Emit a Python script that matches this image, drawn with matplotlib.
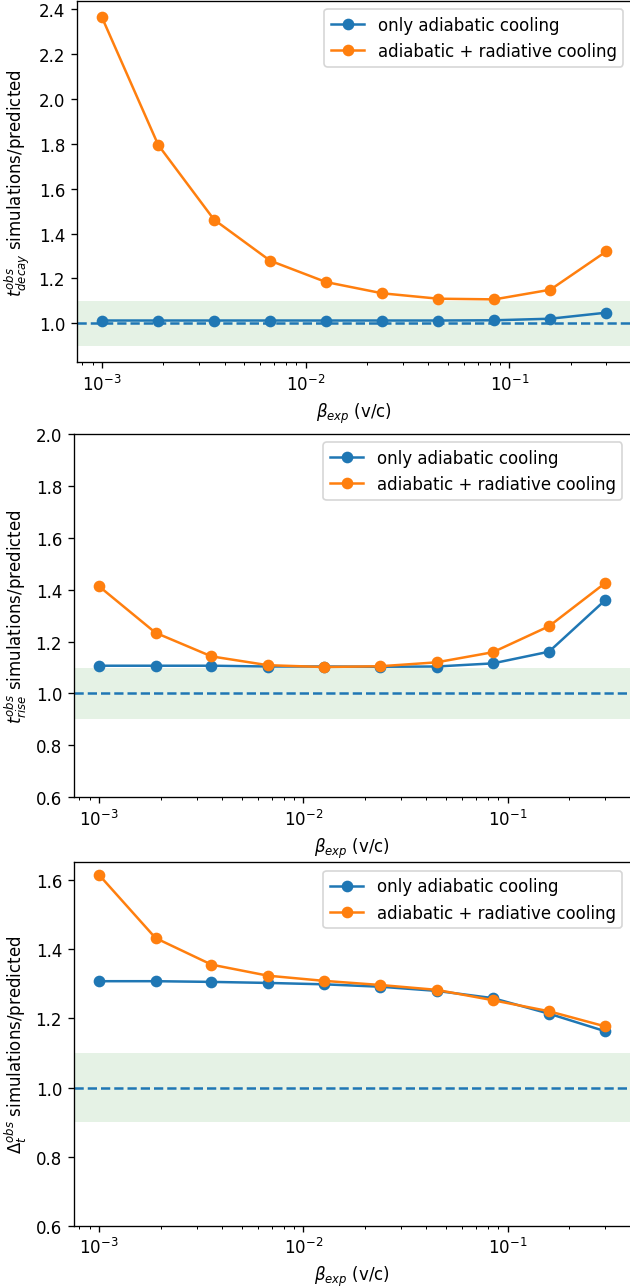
import numpy as np
import matplotlib
matplotlib.use('Agg')
import matplotlib.pyplot as plt

beta = [0.001, 0.00189, 0.00355, 0.0067, 0.0126, 0.0238, 0.0448, 0.0845, 0.159, 0.3]

decay_adiab = [1.013, 1.013, 1.013, 1.013, 1.013, 1.013, 1.013, 1.014, 1.021, 1.048]
decay_rad = [2.362, 1.794, 1.462, 1.279, 1.184, 1.134, 1.110, 1.107, 1.150, 1.321]

rise_adiab = [1.107, 1.107, 1.107, 1.104, 1.104, 1.103, 1.104, 1.116, 1.161, 1.360]
rise_rad = [1.413, 1.234, 1.143, 1.109, 1.102, 1.105, 1.120, 1.159, 1.259, 1.426]

delta_adiab = [1.308, 1.308, 1.306, 1.303, 1.299, 1.292, 1.280, 1.259, 1.214, 1.163]
delta_rad = [1.616, 1.433, 1.356, 1.324, 1.309, 1.297, 1.283, 1.253, 1.221, 1.177]

ylabels = [r'$t^{obs}_{decay}$ simulations/predicted',
           r'$t^{obs}_{rise}$ simulations/predicted',
           r'$\Delta^{obs}_{t}$ simulations/predicted']

# 630x1288 px, drawn at 120 dpi so fonts/markers come out a bit larger
fig = plt.figure(figsize=(5.25, 10.7333), dpi=120)
# three stacked panels, right edge runs slightly past the canvas like the original
rects = [[0.1217, 0.7179, 0.881, 0.2807],
         [0.1170, 0.3802, 0.884, 0.2821],
         [0.1170, 0.0476, 0.884, 0.2820]]
axes = [fig.add_axes(r) for r in rects]

series = [(decay_adiab, decay_rad), (rise_adiab, rise_rad), (delta_adiab, delta_rad)]
for ax, (a, r), lab in zip(axes, series, ylabels):
    ax.plot(beta, a, 'o-', label='only adiabatic cooling')
    ax.plot(beta, r, 'o-', label='adiabatic + radiative cooling')
    ax.axhspan(0.9, 1.1, color='green', alpha=0.1, lw=0)
    ax.axhline(1.0, ls='--', color='C0')
    ax.set_xscale('log')
    ax.set_xlabel(r'$\beta_{exp}$ (v/c)')
    ax.set_ylabel(lab)
    ax.legend(loc='upper right')

axes[1].set_ylim(0.6, 2.0)
axes[2].set_ylim(bottom=0.6)

plt.savefig('out.png', dpi=120)
